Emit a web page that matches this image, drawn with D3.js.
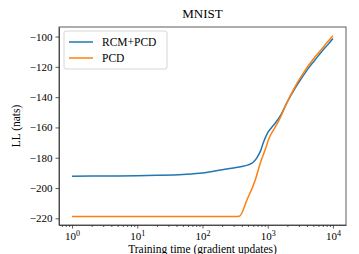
<!DOCTYPE html>
<html>
<head>
<meta charset="utf-8">
<title>MNIST LL</title>
<style>
  body { margin: 0; background: #fff; }
  svg text { font-family: "Liberation Serif", "DejaVu Serif", serif; fill: #000; }
  .axis path, .axis line { stroke: #333; stroke-width: 0.8; }
</style>
</head>
<body>
<div id="chart"></div>
<script src="https://d3js.org/d3.v7.min.js"></script>
<script>
// data
const seriesNames = ["RCM+PCD", "PCD"];
const seriesColors = ["#1f77b4", "#ff7f0e"];

const rcmX = [1, 2, 5, 10, 20, 50, 100, 200, 300, 400, 500, 600, 700, 770, 850, 1000, 1150, 1300, 1600, 1950, 2630, 3300, 4190, 5300, 6700, 8300, 10000];
const rcmY = [-192.2, -192.1, -192.0, -191.9, -191.6, -191.0, -190.1, -187.9, -186.7, -185.8, -184.7, -183.0, -179.2, -175.8, -170.5, -163.5, -160.0, -157.2, -151.5, -144.0, -134.0, -127.5, -121.0, -115.5, -110.0, -105.5, -101.3];

const pcdX = [1, 10, 100, 300, 368, 482, 646, 769, 913, 1050, 1230, 1460, 1700, 1950, 2630, 3300, 4190, 5300, 6700, 8300, 10000];
const pcdY = [-218.8, -218.8, -218.8, -218.8, -218.6, -207.7, -194.5, -183.6, -174.8, -167.0, -161.6, -156.0, -150.0, -144.0, -133.0, -126.0, -119.3, -113.5, -108.3, -103.5, -99.5];

const xMajor = [1, 10, 100, 1000, 10000];
const yTicks = [-220, -200, -180, -160, -140, -120, -100];

const W = 359, H = 254;
const mLeft = 59, mRight = 346, mTop = 27, mBottom = 225;

const svg = d3.select('#chart').append('svg').attr('width', W).attr('height', H);

const x = d3.scaleLog().domain([Math.pow(10, -0.2), Math.pow(10, 4.2)]).range([mLeft, mRight]);
const y = d3.scaleLinear().domain([-224.4, -93.7]).range([mBottom, mTop]);

// minor ticks for log axis
const xMinor = [];
for (let e = -1; e <= 4; e++) {
  for (let m = 2; m <= 9; m++) {
    const v = m * Math.pow(10, e);
    if (v >= x.domain()[0] && v <= x.domain()[1]) xMinor.push(v);
  }
}

const gxMinor = svg.append('g').attr('class', 'axis').attr('transform', 'translate(0,' + mBottom + ')')
  .call(d3.axisBottom(x).tickValues(xMinor).tickSize(2).tickFormat(''));
gxMinor.select('.domain').remove();

const gx = svg.append('g').attr('class', 'axis').attr('transform', 'translate(0,' + mBottom + ')')
  .call(d3.axisBottom(x).tickValues(xMajor).tickSize(3.5).tickSizeOuter(0).tickPadding(3).tickFormat(''));
gx.selectAll('.tick text').each(function(d) {
  const t = d3.select(this).style('font-size', '11px').attr('dy', '0.75em');
  t.append('tspan').text('10');
  t.append('tspan').attr('dy', '-0.45em').style('font-size', '8px').text(Math.round(Math.log10(d)));
});

const gy = svg.append('g').attr('class', 'axis').attr('transform', 'translate(' + mLeft + ',0)')
  .call(d3.axisLeft(y).tickValues(yTicks).tickSize(3.5).tickSizeOuter(0).tickPadding(3));
gy.selectAll('.tick text').style('font-size', '11px');

// frame
svg.append('rect').attr('x', mLeft).attr('y', mTop).attr('width', mRight - mLeft).attr('height', mBottom - mTop)
  .attr('fill', 'none').attr('stroke', '#333').attr('stroke-width', 0.8);

const line = d3.line().x(d => x(d[0])).y(d => y(d[1])).curve(d3.curveMonotoneX);
const series = [d3.zip(rcmX, rcmY), d3.zip(pcdX, pcdY)];
series.forEach((s, i) => {
  svg.append('path').datum(s).attr('d', line).attr('fill', 'none')
    .attr('stroke', seriesColors[i]).attr('stroke-width', 1.5);
});

// title and labels
svg.append('text').attr('x', (mLeft + mRight) / 2).attr('y', 18).attr('text-anchor', 'middle')
  .style('font-size', '13px').text('MNIST');
svg.append('text').attr('x', (mLeft + mRight) / 2).attr('y', 253).attr('text-anchor', 'middle')
  .style('font-size', '11.5px').text('Training time (gradient updates)');
svg.append('text').attr('transform', 'translate(20,' + (mTop + mBottom) / 2 + ') rotate(-90)')
  .attr('text-anchor', 'middle').style('font-size', '11.5px').text('LL (nats)');

// legend
const legend = svg.append('g').attr('transform', 'translate(64,31)');
legend.append('rect').attr('width', 103).attr('height', 38).attr('rx', 2)
  .attr('fill', 'white').attr('fill-opacity', 0.8).attr('stroke', '#ccc').attr('stroke-width', 0.8);
seriesNames.forEach((n, i) => {
  legend.append('line').attr('x1', 5).attr('x2', 29).attr('y1', 11 + i * 16).attr('y2', 11 + i * 16)
    .attr('stroke', seriesColors[i]).attr('stroke-width', 1.5);
  legend.append('text').attr('x', 38).attr('y', 15 + i * 16).style('font-size', '11.5px').text(n);
});
</script>
</body>
</html>
